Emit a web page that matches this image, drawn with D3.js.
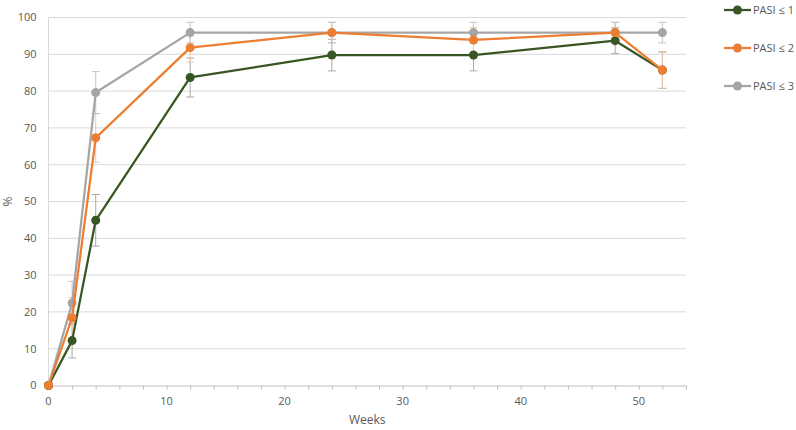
<!DOCTYPE html>
<html>
<head>
<meta charset="utf-8">
<script src="https://cdn.jsdelivr.net/npm/d3@7"></script>
<style>
  body { margin: 0; background: #fff; }
  text { font-family: "Open Sans", "Liberation Sans", sans-serif; }
</style>
</head>
<body>
<div id="chart"></div>
<script>
// data
const weeks = [0, 2, 4, 12, 24, 36, 48, 52];
const seriesNames = ["PASI \u2264 1", "PASI \u2264 2", "PASI \u2264 3"];
const pasi1 = [0, 12.2, 44.9, 83.7, 89.8, 89.8, 93.7, 85.7];
const pasi2 = [0, 18.4, 67.3, 91.8, 95.9, 93.9, 95.9, 85.7];
const pasi3 = [0, 22.4, 79.6, 95.9, 95.9, 95.9, 95.9, 95.9];
const err1 = [0, 4.7, 7.0, 5.3, 4.3, 4.3, 3.5, 5.0];
const err2 = [0, 5.5, 6.6, 3.9, 2.8, 3.4, 2.8, 4.9];
const err3 = [0, 5.9, 5.7, 2.8, 2.8, 2.8, 2.8, 2.8];
const yTicks = [0, 10, 20, 30, 40, 50, 60, 70, 80, 90, 100];
const xTicks = [0, 10, 20, 30, 40, 50];

const colors = ["#375623", "#ED7D31", "#A5A5A5"];
const errColors = ["#a9a9a9", "#e8c9a8", "#c4c4c4"];

const W = 796, H = 430;
const margin = { top: 17.5, right: 110, bottom: 44.5, left: 48.5 };
const width = 686 - margin.left;
const height = H - margin.top - margin.bottom;

const svg = d3.select("#chart").append("svg")
    .attr("width", W)
    .attr("height", H);

const g = svg.append("g")
    .attr("transform", `translate(${margin.left}, ${margin.top})`);

const x = d3.scaleLinear().domain([0, 54]).range([0, width]);
const y = d3.scaleLinear().domain([0, 100]).range([height, 0]);

// gridlines
g.append("g")
    .selectAll("line")
    .data(yTicks.slice(1))
    .enter().append("line")
    .attr("x1", 0).attr("x2", width)
    .attr("y1", d => y(d)).attr("y2", d => y(d))
    .attr("stroke", "#d9d9d9")
    .attr("stroke-width", 1);

// left axis line (no ticks)
g.append("line")
    .attr("x1", 0).attr("x2", 0)
    .attr("y1", 0).attr("y2", height)
    .attr("stroke", "#d9d9d9");

// y tick labels
g.append("g")
    .selectAll("text")
    .data(yTicks)
    .enter().append("text")
    .attr("x", -12)
    .attr("y", d => y(d))
    .attr("dy", "0.35em")
    .attr("text-anchor", "end")
    .attr("fill", "#595959")
    .style("font-size", "11px")
    .text(d => d);

// x axis
const xAxis = g.append("g")
    .attr("transform", `translate(0, ${height})`)
    .call(d3.axisBottom(x).tickValues(d3.range(0, 56, 2)).tickSize(4).tickFormat(""));
xAxis.select(".domain").attr("stroke", "#bfbfbf");
xAxis.selectAll(".tick line").attr("stroke", "#bfbfbf");

g.append("g")
    .selectAll("text")
    .data(xTicks)
    .enter().append("text")
    .attr("x", d => x(d))
    .attr("y", height + 19)
    .attr("text-anchor", "middle")
    .attr("fill", "#595959")
    .style("font-size", "11px")
    .text(d => d);

// axis titles
svg.append("text")
    .attr("x", margin.left + x(27))
    .attr("y", 424)
    .attr("text-anchor", "middle")
    .attr("fill", "#595959")
    .style("font-size", "12px")
    .text("Weeks");

svg.append("text")
    .attr("transform", `translate(12, ${margin.top + y(50)}) rotate(-90)`)
    .attr("text-anchor", "middle")
    .attr("fill", "#595959")
    .style("font-size", "12px")
    .text("%");

const series = [pasi1, pasi2, pasi3].map((vals, i) => ({
    name: seriesNames[i],
    color: colors[i],
    errColor: errColors[i],
    points: weeks.map((w, j) => ({ week: w, value: vals[j], err: [err1, err2, err3][i][j] }))
}));

// error bars
series.forEach(s => {
    const eb = g.append("g").selectAll("g")
        .data(s.points.filter(p => p.err > 0))
        .enter().append("g")
        .attr("stroke", s.errColor)
        .attr("stroke-width", 1);
    eb.append("line")
        .attr("x1", d => x(d.week)).attr("x2", d => x(d.week))
        .attr("y1", d => y(d.value - d.err)).attr("y2", d => y(Math.min(100, d.value + d.err)));
    eb.append("line")
        .attr("x1", d => x(d.week) - 4).attr("x2", d => x(d.week) + 4)
        .attr("y1", d => y(d.value - d.err)).attr("y2", d => y(d.value - d.err));
    eb.append("line")
        .attr("x1", d => x(d.week) - 4).attr("x2", d => x(d.week) + 4)
        .attr("y1", d => y(d.value + d.err)).attr("y2", d => y(d.value + d.err));
});

const line = d3.line()
    .x(d => x(d.week))
    .y(d => y(d.value));

// draw gray first, green on top of orange at the end like the reference
[2, 0, 1].forEach(i => {
    const s = series[i];
    g.append("path")
        .datum(s.points)
        .attr("fill", "none")
        .attr("stroke", s.color)
        .attr("stroke-width", 2.25)
        .attr("stroke-linejoin", "round")
        .attr("d", line);
    g.append("g").selectAll("circle")
        .data(s.points)
        .enter().append("circle")
        .attr("cx", d => x(d.week))
        .attr("cy", d => y(d.value))
        .attr("r", 4.5)
        .attr("fill", s.color);
});

// legend
const legend = svg.append("g")
    .attr("transform", "translate(724, 10)");

const items = legend.selectAll("g")
    .data(series)
    .enter().append("g")
    .attr("transform", (d, i) => `translate(0, ${i * 38})`);

items.append("line")
    .attr("x1", 0).attr("x2", 27)
    .attr("stroke", d => d.color)
    .attr("stroke-width", 2.25);
items.append("circle")
    .attr("cx", 13.5)
    .attr("r", 4.5)
    .attr("fill", d => d.color);
items.append("text")
    .attr("x", 29)
    .attr("dy", "0.35em")
    .attr("fill", "#595959")
    .style("font-size", "11px")
    .text(d => d.name);
</script>
</body>
</html>
